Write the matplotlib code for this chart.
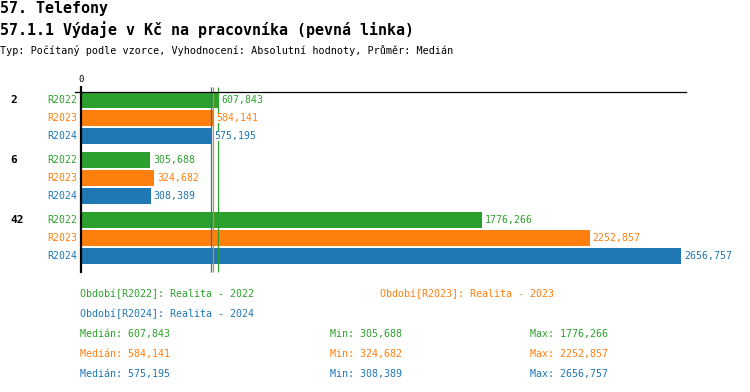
import matplotlib.pyplot as plt

# data
groups = ['2', '6', '42']
series = ['R2022', 'R2023', 'R2024']
colors = ['#2ca02c', '#ff7f0e', '#1f77b4']
values = {
    'R2022': [607.843, 305.688, 1776.266],
    'R2023': [584.141, 324.682, 2252.857],
    'R2024': [575.195, 308.389, 2656.757],
}
medians = [607.843, 584.141, 575.195]
mins = [305.688, 324.682, 308.389]
maxs = [1776.266, 2252.857, 2656.757]
periods = ['Období[R2022]: Realita - 2022',
           'Období[R2023]: Realita - 2023',
           'Období[R2024]: Realita - 2024']


def fmt(v):
    return ('%.3f' % v).replace('.', ',')


W, H = 750, 392
MONO = 'DejaVu Sans Mono'

fig = plt.figure(figsize=(W / 100, H / 100), dpi=100)


def px(x, y):
    return x / W, 1 - y / H


# header
fig.text(*px(0, 8), '57. Telefony', family=MONO, fontsize=10.8,
         weight='bold', va='center')
fig.text(*px(0, 30), '57.1.1 Výdaje v Kč na pracovníka (pevná linka)',
         family=MONO, fontsize=10.8, weight='bold', va='center')
fig.text(*px(0, 50), 'Typ: Počítaný podle vzorce, Vyhodnocení: Absolutní '
         'hodnoty, Průměr: Medián', family=MONO, fontsize=7.3, va='center')

# plot area in pixel units: left 81, right 686, top 92, bottom 272
left, right, top, bottom = 81, 686, 92, 272
ax = fig.add_axes([left / W, 1 - bottom / H, (right - left) / W,
                   (bottom - top) / H])
scale = 0.2258  # px per unit
ax.set_xlim(0, (right - left) / scale)
ax.set_ylim(bottom - top, 0)
ax.axis('off')

bar_h = 16
pitch = 18
group_pitch = 60

for gi, g in enumerate(groups):
    y0 = gi * group_pitch + 8
    ax.text(-71 / scale, y0, g, family=MONO, fontsize=8, weight='bold',
            va='center', ha='left', clip_on=False)
    for si, s in enumerate(series):
        y = y0 + si * pitch
        v = values[s][gi]
        ax.barh(y, v, height=bar_h, color=colors[si], zorder=2,
                linewidth=0, antialiased=False)
        ax.text(-4 / scale, y, s, family=MONO, fontsize=7.1, color=colors[si],
                va='center', ha='right', clip_on=False)
        ax.annotate(fmt(v), (v, y), xytext=(2.2, 0), textcoords='offset points',
                    family=MONO, fontsize=7.1, color=colors[si], va='center',
                    ha='left', annotation_clip=False, zorder=4,
                    bbox=dict(facecolor='white', edgecolor='none', pad=0.3))

# median lines
for m, c in zip(medians, colors):
    ax.vlines(m, -5, bottom - top, color=c, lw=0.9, zorder=3, clip_on=False)

# axes lines
ax.plot([-6 / scale, (right - left) / scale], [0, 0], color='black', lw=0.9,
        clip_on=False, zorder=5)
ax.plot([0, 0], [-5, bottom - top], color='black', lw=1.6, clip_on=False,
        zorder=5)
ax.text(0, -12, '0', family=MONO, fontsize=6.5, ha='center', va='center',
        clip_on=False)

# legend / stats
fig.text(*px(80, 294), periods[0], family=MONO, fontsize=7.2,
         color=colors[0], va='center')
fig.text(*px(380, 294), periods[1], family=MONO, fontsize=7.2,
         color=colors[1], va='center')
fig.text(*px(80, 314), periods[2], family=MONO, fontsize=7.2,
         color=colors[2], va='center')
for i, c in enumerate(colors):
    yy = 334 + i * 20
    fig.text(*px(80, yy), 'Medián: ' + fmt(medians[i]), family=MONO,
             fontsize=7.2, color=c, va='center')
    fig.text(*px(330, yy), 'Min: ' + fmt(mins[i]), family=MONO,
             fontsize=7.2, color=c, va='center')
    fig.text(*px(530, yy), 'Max: ' + fmt(maxs[i]), family=MONO,
             fontsize=7.2, color=c, va='center')

fig.savefig('out.png', dpi=100)
